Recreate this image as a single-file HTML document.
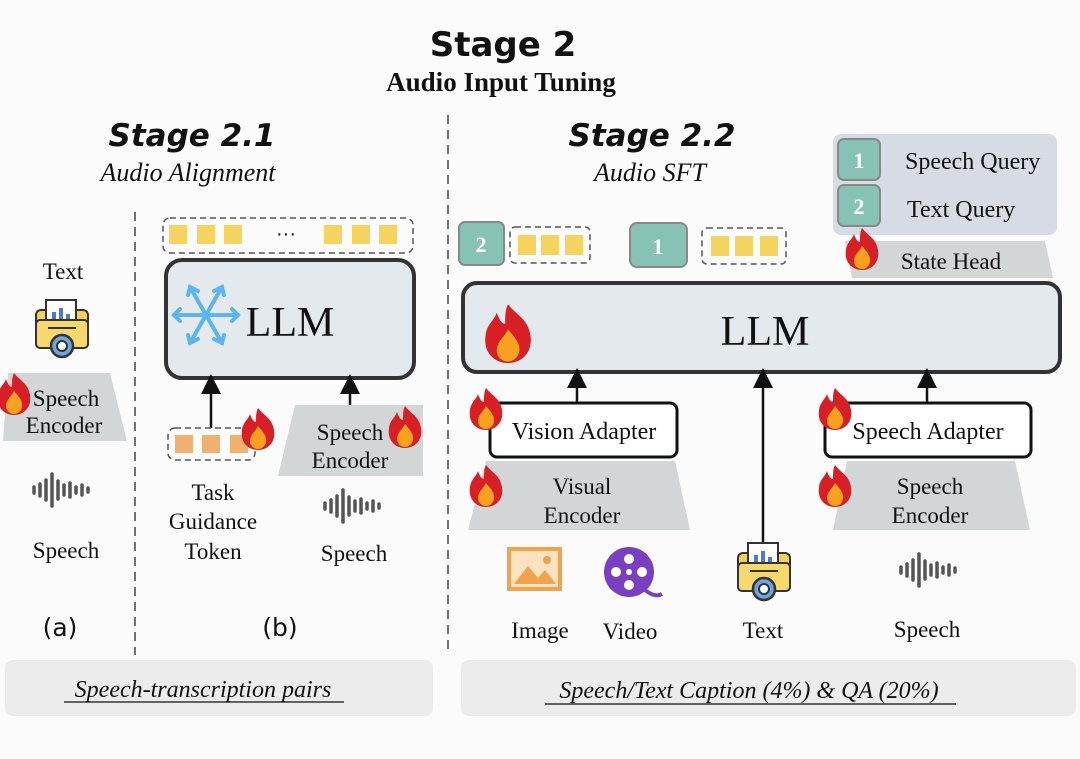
<!DOCTYPE html>
<html><head><meta charset="utf-8"><style>
html,body{margin:0;padding:0;background:#fbfbfb;}
svg{display:block;}
.s{font-family:"Liberation Serif",serif;fill:#111;}
.h{font-family:"DejaVu Sans",sans-serif;font-weight:bold;font-style:italic;fill:#111;}
</style></head><body>
<svg width="1080" height="759" viewBox="0 0 1080 759" xmlns="http://www.w3.org/2000/svg">
<defs>
<marker id="ar" markerWidth="8" markerHeight="8" refX="4" refY="4" orient="auto"><path d="M0,0 L8,4 L0,8 z" fill="#111"/></marker>
<g id="fl">
<path d="M0,-22 C6,-14 14,-12 16,0 C18,12 10,20 0,20 C-10,20 -18,12 -16,0 C-15,-8 -10,-10 -8,-16 C-6,-10 -4,-8 -2,-8 C-2,-14 -2,-18 0,-22 z" fill="#d81f26"/>
<path d="M0,-4 C5,2 9,6 8,12 C7,17 3,19 0,19 C-4,19 -8,16 -8,11 C-8,5 -3,2 0,-4 z" fill="#f7a11e"/>
</g>
<g id="wave" stroke="#555" stroke-width="3.5" stroke-linecap="round">
<line x1="-28" y1="-3" x2="-28" y2="3"/><line x1="-22" y1="-6" x2="-22" y2="6"/><line x1="-16" y1="-10" x2="-16" y2="10"/><line x1="-10" y1="-16" x2="-10" y2="16"/><line x1="-4" y1="-9" x2="-4" y2="9"/><line x1="2" y1="-5" x2="2" y2="5"/><line x1="8" y1="-7" x2="8" y2="7"/><line x1="14" y1="-3" x2="14" y2="3"/><line x1="20" y1="-5" x2="20" y2="5"/><line x1="26" y1="-2" x2="26" y2="2"/>
</g>
<g id="doc">
<rect x="-26" y="-22" width="52" height="38" rx="5" fill="#f4cf5c" stroke="#333" stroke-width="2"/>
<rect x="-16" y="-32" width="30" height="24" fill="#fff" stroke="#333" stroke-width="2"/>
<rect x="-10" y="-20" width="4" height="10" fill="#4a7bd0"/><rect x="-3" y="-24" width="4" height="14" fill="#4a7bd0"/><rect x="4" y="-18" width="4" height="8" fill="#4a7bd0"/>
<rect x="-26" y="-12" width="52" height="28" rx="4" fill="#f6d86e" stroke="#333" stroke-width="2"/>
<line x1="-14" y1="-4" x2="14" y2="-4" stroke="#333" stroke-width="2"/>
<circle cx="0" cy="14" r="11" fill="#6fa4e0" stroke="#333" stroke-width="2.5"/><circle cx="0" cy="14" r="5" fill="#fff" stroke="#333" stroke-width="2"/>
</g>
</defs>

<!-- Titles -->
<text x="503" y="56" text-anchor="middle" class="h" font-size="34" style="font-style:normal">Stage 2</text>
<text x="501" y="91" text-anchor="middle" class="s" font-size="27" font-weight="bold">Audio Input Tuning</text>
<text x="192" y="146" text-anchor="middle" class="h" font-size="31">Stage 2.1</text>
<text x="188" y="181" text-anchor="middle" class="s" font-size="26" font-style="italic">Audio Alignment</text>
<text x="652" y="146" text-anchor="middle" class="h" font-size="31">Stage 2.2</text>
<text x="650" y="181" text-anchor="middle" class="s" font-size="26" font-style="italic">Audio SFT</text>

<!-- dashed dividers -->
<line x1="448" y1="115" x2="448" y2="655" stroke="#444" stroke-width="1.5" stroke-dasharray="9,6"/>
<line x1="135" y1="212" x2="135" y2="655" stroke="#444" stroke-width="1.5" stroke-dasharray="9,6"/>

<!-- (a) -->
<text x="63" y="279" text-anchor="middle" class="s" font-size="23">Text</text>
<use href="#doc" x="62" y="332"/>
<polygon points="8,373 110,373 127,441 3,441" fill="#d2d6d6"/>
<text x="66" y="406" text-anchor="middle" class="s" font-size="23">Speech</text>
<text x="64" y="433" text-anchor="middle" class="s" font-size="23">Encoder</text>
<use href="#fl" x="14" y="395"/>
<use href="#wave" x="62" y="490"/>
<text x="66" y="558" text-anchor="middle" class="s" font-size="23">Speech</text>
<text x="60" y="636" text-anchor="middle" font-family="DejaVu Sans,sans-serif" font-size="25" fill="#111">(a)</text>

<!-- (b) -->
<rect x="163" y="218" width="250" height="35" rx="7" fill="none" stroke="#555" stroke-width="1.5" stroke-dasharray="6,4"/>
<g fill="#f4d35e"><rect x="169" y="225" width="18" height="19"/><rect x="197" y="225" width="18" height="19"/><rect x="224" y="225" width="18" height="19"/><rect x="324" y="225" width="18" height="19"/><rect x="352" y="225" width="18" height="19"/><rect x="379" y="225" width="18" height="19"/></g>
<text x="286" y="240" text-anchor="middle" font-size="20" font-family="Liberation Sans,sans-serif" fill="#111">···</text>
<rect x="166" y="260" width="248" height="118" rx="16" fill="#e4e9ed" stroke="#333" stroke-width="4"/>
<g stroke="#5bb6f0" stroke-width="4" stroke-linecap="round" transform="translate(206,315)">
<line x1="-32" y1="0" x2="32" y2="0"/><line x1="-16" y1="-28" x2="16" y2="28"/><line x1="16" y1="-28" x2="-16" y2="28"/>
<path d="M26,-6 L32,0 L26,6 M-26,-6 L-32,0 L-26,6 M-8,-24 L-16,-28 L-18,-20 M8,24 L16,28 L18,20 M8,-24 L16,-28 L18,-20 M-8,24 L-16,28 L-18,20" fill="none"/>
</g>
<text x="290" y="336" text-anchor="middle" class="s" font-size="42">LLM</text>
<line x1="211" y1="428" x2="211" y2="384" stroke="#111" stroke-width="2.5" marker-end="url(#ar)"/>
<line x1="350" y1="406" x2="350" y2="384" stroke="#111" stroke-width="2.5" marker-end="url(#ar)"/>
<rect x="168" y="428" width="87" height="32" rx="7" fill="none" stroke="#555" stroke-width="1.5" stroke-dasharray="6,4"/>
<g fill="#f0b16e"><rect x="175" y="435" width="18" height="18"/><rect x="202" y="435" width="18" height="18"/><rect x="230" y="435" width="18" height="18"/></g>
<use href="#fl" x="258" y="430"/>
<polygon points="295,405 423,405 423,476 278,476" fill="#d2d6d6"/>
<text x="350" y="440" text-anchor="middle" class="s" font-size="23">Speech</text>
<text x="350" y="468" text-anchor="middle" class="s" font-size="23">Encoder</text>
<use href="#fl" x="405" y="428"/>
<text x="213" y="500" text-anchor="middle" class="s" font-size="23">Task</text>
<text x="213" y="529" text-anchor="middle" class="s" font-size="23">Guidance</text>
<text x="213" y="559" text-anchor="middle" class="s" font-size="23">Token</text>
<use href="#wave" x="353" y="506"/>
<text x="354" y="561" text-anchor="middle" class="s" font-size="23">Speech</text>
<text x="280" y="636" text-anchor="middle" font-family="DejaVu Sans,sans-serif" font-size="25" fill="#111">(b)</text>

<!-- Stage 2.2 -->
<rect x="833" y="134" width="224" height="101" rx="8" fill="#d6dbe4"/>
<rect x="838" y="139" width="42" height="41" rx="6" fill="#86c3b5" stroke="#888" stroke-width="2"/>
<text x="859" y="168" text-anchor="middle" class="s" font-size="22" font-weight="bold" style="fill:#fff">1</text>
<rect x="838" y="185" width="42" height="41" rx="6" fill="#86c3b5" stroke="#888" stroke-width="2"/>
<text x="859" y="214" text-anchor="middle" class="s" font-size="22" font-weight="bold" style="fill:#fff">2</text>
<text x="905" y="169" class="s" font-size="24">Speech Query</text>
<text x="907" y="217" class="s" font-size="24">Text Query</text>
<polygon points="845,241 1045,241 1053,278 852,278" fill="#d2d6d6"/>
<text x="951" y="269" text-anchor="middle" class="s" font-size="23">State Head</text>
<use href="#fl" x="862" y="250"/>

<rect x="459" y="222" width="45" height="43" rx="6" fill="#86c3b5" stroke="#888" stroke-width="2"/>
<text x="481" y="252" text-anchor="middle" class="s" font-size="22" font-weight="bold" style="fill:#fff">2</text>
<rect x="510" y="227" width="80" height="36" rx="5" fill="none" stroke="#555" stroke-width="1.5" stroke-dasharray="6,4"/>
<g fill="#f4d35e"><rect x="518" y="235" width="18" height="20"/><rect x="541" y="235" width="18" height="20"/><rect x="565" y="235" width="18" height="20"/></g>
<rect x="630" y="223" width="57" height="44" rx="7" fill="#86c3b5" stroke="#888" stroke-width="2"/>
<text x="658" y="254" text-anchor="middle" class="s" font-size="22" font-weight="bold" style="fill:#fff">1</text>
<rect x="702" y="228" width="84" height="36" rx="5" fill="none" stroke="#555" stroke-width="1.5" stroke-dasharray="6,4"/>
<g fill="#f4d35e"><rect x="711" y="236" width="18" height="20"/><rect x="735" y="236" width="18" height="20"/><rect x="760" y="236" width="18" height="20"/></g>

<rect x="463" y="283" width="597" height="89" rx="14" fill="#e4e9ed" stroke="#333" stroke-width="4"/>
<use href="#fl" transform="translate(508,335) scale(1.4)"/>
<text x="765" y="345" text-anchor="middle" class="s" font-size="42">LLM</text>

<line x1="577" y1="403" x2="577" y2="378" stroke="#111" stroke-width="2.5" marker-end="url(#ar)"/>
<line x1="927" y1="403" x2="927" y2="378" stroke="#111" stroke-width="2.5" marker-end="url(#ar)"/>
<line x1="763" y1="545" x2="763" y2="378" stroke="#111" stroke-width="2.5" marker-end="url(#ar)"/>

<rect x="490" y="403" width="187" height="54" rx="7" fill="#fff" stroke="#111" stroke-width="3"/>
<text x="584" y="439" text-anchor="middle" class="s" font-size="24">Vision Adapter</text>
<rect x="825" y="403" width="206" height="54" rx="7" fill="#fff" stroke="#111" stroke-width="3"/>
<text x="928" y="439" text-anchor="middle" class="s" font-size="24">Speech Adapter</text>
<use href="#fl" x="486" y="410"/>
<use href="#fl" x="835" y="410"/>

<polygon points="486,461 675,461 690,530 468,530" fill="#d2d6d6"/>
<text x="582" y="494" text-anchor="middle" class="s" font-size="23">Visual</text>
<text x="582" y="523" text-anchor="middle" class="s" font-size="23">Encoder</text>
<polygon points="847,461 1015,461 1030,530 833,530" fill="#d2d6d6"/>
<text x="930" y="494" text-anchor="middle" class="s" font-size="23">Speech</text>
<text x="930" y="523" text-anchor="middle" class="s" font-size="23">Encoder</text>
<use href="#fl" x="486" y="487"/>
<use href="#fl" x="835" y="487"/>

<!-- icons -->
<rect x="509" y="549" width="51" height="40" fill="#fbe3c2" stroke="#f0a24c" stroke-width="4"/>
<path d="M514,584 L528,566 L538,578 L545,570 L556,584 z" fill="#f0a24c"/>
<circle cx="547" cy="560" r="4" fill="#f0a24c"/>
<circle cx="629" cy="572" r="25" fill="#7a3fc0"/>
<g fill="#fff"><circle cx="629" cy="559" r="5"/><circle cx="629" cy="585" r="5"/><circle cx="616" cy="572" r="5"/><circle cx="642" cy="572" r="5"/><circle cx="629" cy="572" r="3"/></g>
<path d="M645,590 Q655,598 662,594" stroke="#7a3fc0" stroke-width="4" fill="none"/>
<use href="#doc" x="764" y="575"/>
<use href="#wave" x="929" y="570"/>
<text x="540" y="638" text-anchor="middle" class="s" font-size="23">Image</text>
<text x="630" y="639" text-anchor="middle" class="s" font-size="23">Video</text>
<text x="763" y="638" text-anchor="middle" class="s" font-size="23">Text</text>
<text x="927" y="637" text-anchor="middle" class="s" font-size="23">Speech</text>

<!-- captions -->
<rect x="5" y="660" width="428" height="56" rx="8" fill="#ececec"/>
<text x="203" y="697" text-anchor="middle" class="s" font-size="24" font-style="italic">Speech-transcription pairs</text>
<line x1="64" y1="702" x2="344" y2="702" stroke="#111" stroke-width="1.2"/>
<rect x="461" y="660" width="615" height="56" rx="8" fill="#ececec"/>
<text x="749" y="698" text-anchor="middle" class="s" font-size="24" font-style="italic">Speech/Text Caption (4%) &amp; QA (20%)</text>
<line x1="545" y1="704" x2="956" y2="704" stroke="#111" stroke-width="1.2"/>
</svg>
</body></html>
